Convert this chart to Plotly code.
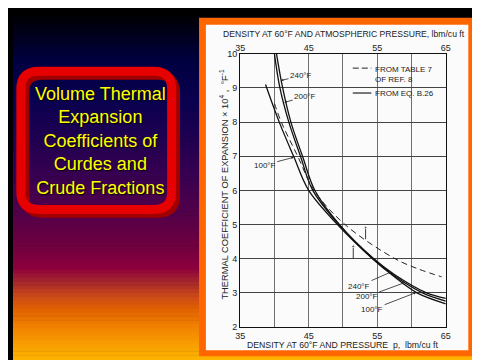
import numpy as np
import plotly.graph_objects as go

# ---------------- data ----------------
density_100F = [38.7, 40.7, 42.8, 45.0, 49.2, 54.3, 57.5, 60.8, 65.0]
coef_100F = [9.1, 8.0, 7.0, 6.0, 5.0, 4.0, 3.47, 3.0, 2.68]
density_200F = [40.0, 40.8, 42.1, 43.8, 45.6, 49.4, 54.4, 57.5, 61.6, 65.0]
coef_200F = [10.0, 9.0, 8.0, 7.0, 6.0, 5.0, 4.0, 3.5, 3.0, 2.76]
density_240F = [40.3, 41.2, 42.4, 44.1, 45.9, 49.5, 54.5, 57.5, 62.2, 65.0]
coef_240F = [10.0, 9.0, 8.0, 7.0, 6.0, 5.0, 4.0, 3.54, 3.0, 2.84]
density_table7 = [40.0, 41.0, 43.4, 45.8, 50.3, 57.6, 61.0, 64.4]
coef_table7 = [8.55, 8.0, 7.0, 6.0, 5.0, 4.0, 3.7, 3.47]

# small vertical pointers drawn on the chart
pointer_density = [53.3, 51.5]
pointer_from = [4.57, 4.0]
pointer_to = [4.91, 4.36]

x_ticks = [35, 45, 55, 65]
x_minor = [40, 50, 60]
y_ticks = [2, 3, 4, 5, 6, 7, 8, 9, 10]

W, H = 480, 360
def X(px): return px / W
def Y(py): return 1 - py / H

fig = go.Figure()
line_style = dict(color="#111111", width=1.3, shape="spline")
for dx, cy in [(density_100F, coef_100F), (density_200F, coef_200F), (density_240F, coef_240F)]:
    fig.add_trace(go.Scatter(x=dx, y=cy, mode="lines", line=line_style,
                             hoverinfo="skip", showlegend=False))
fig.add_trace(go.Scatter(x=density_table7, y=coef_table7, mode="lines",
                         line=dict(color="#222222", width=1, dash="6px,4px", shape="spline"),
                         hoverinfo="skip", showlegend=False))
for xd, y0, y1 in zip(pointer_density, pointer_from, pointer_to):
    fig.add_trace(go.Scatter(x=[xd, xd], y=[y0, y1], mode="lines+markers",
                             line=dict(color="#222", width=0.9),
                             marker=dict(symbol="triangle-up", size=[0, 4], color="#222"),
                             hoverinfo="skip", showlegend=False))
# carrier for the top axis
fig.add_trace(go.Scatter(x=[35, 65], y=[None, None], xaxis="x2", mode="lines",
                         hoverinfo="skip", showlegend=False))

# ---------------- background / frames ----------------
shapes = []
stops_py = [0, 20, 50, 90, 130, 170, 210, 240, 262, 278, 292, 305, 320, 340, 360]
stops_col = ["#000000", "#00001a", "#000040", "#0a0050", "#200050", "#3a0050", "#550048",
             "#70003f", "#8c003d", "#a82a2a", "#cc4a18", "#e06200", "#f07c00", "#f89c00", "#ffb800"]
rgb = np.array([[int(c[i:i + 2], 16) for i in (1, 3, 5)] for c in stops_col], dtype=float)
band = 4
for y0 in range(0, H, band):
    yc = y0 + band / 2
    col = [np.interp(yc, stops_py, rgb[:, k]) for k in range(3)]
    shapes.append(dict(type="rect", xref="paper", yref="paper", x0=0, x1=1,
                       y0=Y(y0 + band + 0.5), y1=Y(y0), line=dict(width=0),
                       fillcolor="rgb(%d,%d,%d)" % tuple(int(round(v)) for v in col),
                       layer="below"))
# orange frame and white panel
shapes.append(dict(type="rect", xref="paper", yref="paper", x0=X(190), x1=X(472), y0=Y(353), y1=Y(5),
                   line=dict(width=0), fillcolor="#ff6600", layer="below"))
shapes.append(dict(type="rect", xref="paper", yref="paper", x0=X(197), x1=X(465), y0=Y(347), y1=Y(12),
                   line=dict(width=0), fillcolor="#fbfbfb", layer="below"))

def rrect(x0, y0, x1, y1, r):
    def p(px, py): return "%.5f,%.5f" % (X(px), Y(py))
    return ("M%s L%s Q%s %s L%s Q%s %s L%s Q%s %s L%s Q%s %s Z" % (
        p(x0 + r, y0), p(x1 - r, y0), p(x1, y0), p(x1, y0 + r),
        p(x1, y1 - r), p(x1, y1), p(x1 - r, y1),
        p(x0 + r, y1), p(x0, y1), p(x0, y1 - r),
        p(x0, y0 + r), p(x0, y0), p(x0 + r, y0)))

shapes.append(dict(type="path", xref="paper", yref="paper", path=rrect(12, 64, 166, 206, 18),
                   line=dict(color="#a00000", width=9), fillcolor="rgba(0,0,0,0)", layer="below"))
shapes.append(dict(type="path", xref="paper", yref="paper", path=rrect(8, 60, 162, 202, 18),
                   line=dict(color="#e60000", width=9), fillcolor="rgba(0,0,0,0)", layer="below"))

# legend samples
shapes.append(dict(type="line", xref="paper", yref="paper", x0=X(347), x1=X(366), y0=Y(56.7), y1=Y(56.7),
                   line=dict(color="#222", width=1, dash="6px,3px")))
shapes.append(dict(type="line", xref="paper", yref="paper", x0=X(347), x1=X(366), y0=Y(82.3), y1=Y(82.3),
                   line=dict(color="#222", width=1.2)))

def sfont(size):
    return dict(family="Liberation Sans", size=size, color="#222222")

ann = []
ann.append(dict(text="Volume Thermal<br>Expansion<br>Coefficients of<br>Curdes and<br>Crude Fractions",
                xref="paper", yref="paper", x=X(89), y=Y(131.5), showarrow=False,
                xanchor="center", yanchor="middle", align="center",
                font=dict(family="Liberation Sans", size=18, color="#ffff00",
                          shadow="1px 1px 1px #000000")))
ann.append(dict(text="DENSITY AT 60°F AND ATMOSPHERIC PRESSURE, lbm/cu ft", xref="paper", yref="paper",
                x=X(338), y=Y(21.5), showarrow=False, xanchor="center", yanchor="middle", font=sfont(8.6)))
ann.append(dict(text="DENSITY AT 60°F AND PRESSURE  p,  lbm/cu ft", xref="paper", yref="paper",
                x=X(336), y=Y(341.5), showarrow=False, xanchor="center", yanchor="middle", font=sfont(8.7)))
ann.append(dict(text="THERMAL COEFFICIENT OF EXPANSION × 10<sup>4</sup> ,  °F<sup>-1</sup>",
                xref="paper", yref="paper", x=X(215.5), y=Y(176.5), textangle=-90, showarrow=False,
                xanchor="center", yanchor="middle", font=sfont(9.3)))
ann.append(dict(text="FROM TABLE 7<br>OF REF. 8", xref="paper", yref="paper", x=X(368), y=Y(51),
                showarrow=False, xanchor="left", yanchor="top", align="left", font=sfont(8)))
ann.append(dict(text="FROM EQ. B.26", xref="paper", yref="paper", x=X(368), y=Y(82.3),
                showarrow=False, xanchor="left", yanchor="middle", align="left", font=sfont(8)))

arrow = dict(showarrow=True, arrowhead=2, arrowsize=0.6, arrowwidth=0.8, arrowcolor="#222", font=sfont(8))
labels = [("240°F", 40.96, 9.22, 20, -4.8), ("200°F", 41.43, 8.58, 21, -5.4),
          ("100°F", 42.81, 6.97, -29, 7.7), ("240°F", 57.0, 3.61, -32, 14),
          ("200°F", 59.0, 3.30, -38, 14), ("100°F", 60.67, 3.01, -44, 17)]
for t, x, y, ax, ay in labels:
    ann.append(dict(text=t, x=x, y=y, ax=ax, ay=ay, xref="x", yref="y", **arrow))

tickfont = dict(family="Liberation Sans", size=9, color="#222222")
xdom = [X(232), X(442)]
ydom = [Y(323), Y(42)]
fig.update_layout(
    width=W, height=H, margin=dict(l=0, r=0, t=0, b=0),
    paper_bgcolor="#000000", plot_bgcolor="rgba(0,0,0,0)",
    showlegend=False, shapes=shapes, annotations=ann,
    xaxis=dict(domain=xdom, range=[35, 65], tickvals=x_ticks,
               showgrid=True, gridcolor="#707070", gridwidth=1, zeroline=False,
               minor=dict(tickvals=x_minor, showgrid=True, gridcolor="#707070", gridwidth=1, ticks=""),
               showline=True, linecolor="#111", linewidth=1.2, mirror=True, ticks="",
               tickfont=tickfont, anchor="y"),
    xaxis2=dict(range=[35, 65], overlaying="x", side="top", tickvals=x_ticks,
                showgrid=False, zeroline=False, showline=False, ticks="", tickfont=tickfont, anchor="y"),
    yaxis=dict(domain=ydom, range=[2, 10], tickvals=y_ticks, showgrid=True, gridcolor="#444444",
               gridwidth=1, zeroline=False, showline=True, linecolor="#111", linewidth=1.2,
               mirror=True, ticks="", tickfont=tickfont),
)
fig.write_html("out.html")
